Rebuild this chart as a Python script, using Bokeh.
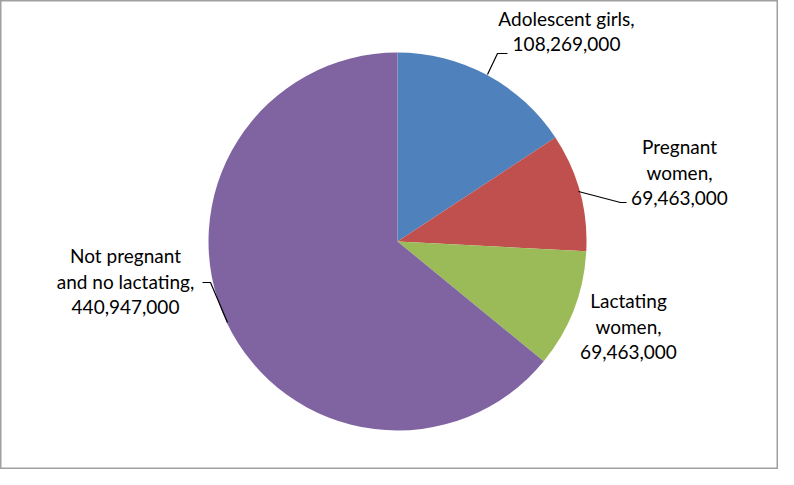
import math
from bokeh.plotting import figure
from bokeh.models import Range1d, ColumnDataSource
from bokeh.core.properties import value
from bokeh.embed import file_html
from bokeh.resources import INLINE

# ---- data ----
categories = ["Adolescent girls", "Pregnant women", "Lactating women", "Not pregnant and no lactating"]
counts = [108269000, 69463000, 69463000, 440947000]
label_lines = [
    ["Adolescent girls,", "108,269,000"],
    ["Pregnant", "women,", "69,463,000"],
    ["Lactating", "women,", "69,463,000"],
    ["Not pregnant", "and no lactating,", "440,947,000"],
]
colors = ["#4F81BD", "#C0504D", "#9BBB59", "#8064A2"]

# ---- layout (pixel coordinates, y measured from top) ----
W, H = 778, 469
PAGE_H = 485
cx, cy, R = 397, 241, 189

def Y(py):
    return PAGE_H - py

p = figure(width=W, height=H, output_backend="svg", toolbar_location=None,
           x_range=Range1d(0, W), y_range=Range1d(PAGE_H - H, PAGE_H),
           min_border=0)
p.axis.visible = False
p.grid.visible = False
p.outline_line_color = "#A0A0A0"
p.outline_line_width = 2
p.background_fill_color = "white"
p.border_fill_color = "white"

total = float(sum(counts))
starts, ends = [], []
acc = 0.0
for c in counts:
    starts.append(math.pi / 2 - acc / total * 2 * math.pi)
    acc += c
    ends.append(math.pi / 2 - acc / total * 2 * math.pi)

src = ColumnDataSource(dict(x=[cx] * 4, y=[Y(cy)] * 4, start=starts, end=ends,
                            color=colors, cat=categories))
p.wedge(x="x", y="y", radius=R, start_angle="start", end_angle="end",
        direction="clock", fill_color="color", line_color=None, source=src)

# leader lines
leaders = [
    ([487, 497, 507], [74, 53, 53]),
    ([578, 620, 626], [191, 202, 202]),
    ([227, 210, 202], [322, 282, 282]),
]
for xs, ys in leaders:
    p.line(xs, [Y(v) for v in ys], line_color="black", line_width=1.2)

# label anchors (center x, first line y), line spacing
anchors = [(566, 18), (679, 146), (628, 300), (125, 255)]
spacing = 25.5
tx, ty, tt = [], [], []
for (ax, ay), lines in zip(anchors, label_lines):
    for i, s in enumerate(lines):
        tx.append(ax)
        ty.append(Y(ay + i * spacing))
        tt.append(s)
p.text(x=tx, y=ty, text=tt, text_align="center", text_baseline="middle",
       text_font=value("Lato"), text_font_size="19px", text_color="black")

open("out.html", "w").write(file_html(p, INLINE))
